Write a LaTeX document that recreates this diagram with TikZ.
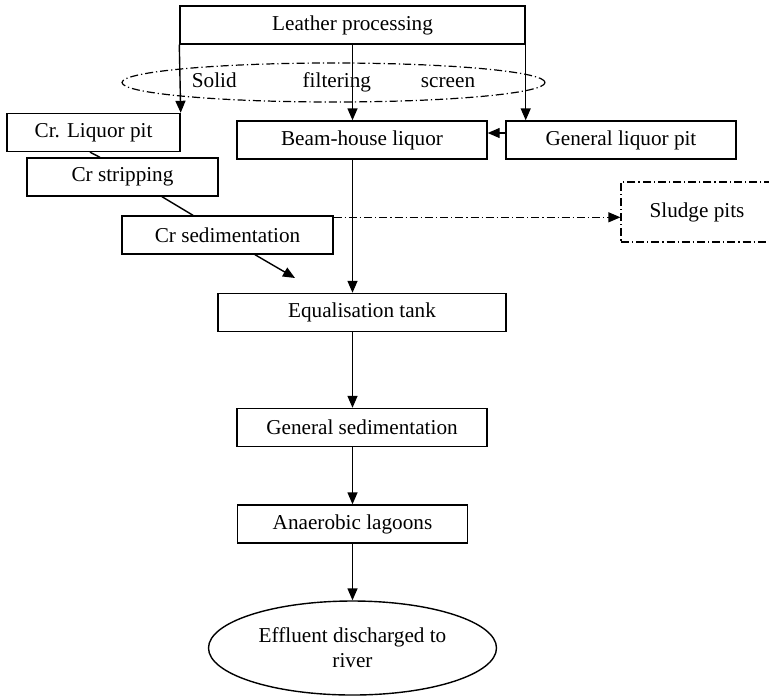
\documentclass[tikz,border=0pt]{standalone}
\usepackage{fontspec}
\setmainfont{Liberation Serif}
\usetikzlibrary{arrows.meta,shapes.geometric,calc}

\tikzset{
    stage/.style={draw, line width=0.7pt, minimum height=19pt, inner sep=0pt,
        font=\fontsize{10.6}{12.5}\selectfont},
    flow/.style={-{Triangle[length=6pt,width=5pt]}, line width=0.7pt},
    dashdot/.style={line width=0.6pt, dash pattern=on 4pt off 1.5pt on 0.6pt off 1.5pt}
}

\begin{document}
\begin{tikzpicture}[x=0.5pt, y=-0.5pt]
        \useasboundingbox (0,0) rectangle (769,696);
        \clip (0,0) rectangle (769,696);

        % Defining the treatment stages
        \node[stage, minimum width=172.5pt] (leather) at (352.5,25) {Leather processing};
        \node[stage, dashdot, ellipse, minimum width=211.5pt, minimum height=19.5pt] (screen) at (333.5,82.5)
            {Solid\hspace*{33pt}filtering\hspace*{25pt}screen};
        \node[stage, minimum width=86.5pt] (crliq) at (93.5,132.5) {Cr. Liquor pit};
        \node[stage, minimum width=95.5pt] (crstrip) at (122.5,177) {Cr stripping};
        \node[stage, minimum width=105.5pt] (crsed) at (227.5,235) {Cr sedimentation};
        \node[stage, minimum width=125pt] (beam) at (362,140) {Beam-house liquor};
        \node[stage, minimum width=115pt] (genliq) at (621,140) {General liquor pit};
        \node[stage, dashdot, minimum width=76pt, minimum height=30pt] (sludge) at (697,212) {Sludge pits};
        \node[stage, minimum width=144pt] (equal) at (362,312.5) {Equalisation tank};
        \node[stage, minimum width=125pt] (gensed) at (362,427.5) {General sedimentation};
        \node[stage, minimum width=115pt] (anaer) at (352.5,524) {Anaerobic lagoons};
        \node[stage, ellipse, minimum width=144pt, minimum height=47pt, align=center] (river) at (352.5,648)
            {Effluent discharged to\\river};

        \coordinate (crout) at (295,278);
        \coordinate (sedtop) at ($(crsed.north east)+(0,2)$);

        % Links out of the processing hall
        \draw[flow] (leather.south west) -- (crliq.north east);
        \draw[flow] (leather.south) -- (leather.south |- beam.north);
        \draw[flow] (leather.south east) -- (leather.south east |- genliq.north);
        \draw[flow] ($(genliq.west)+(0,-7)$) -- ($(beam.east)+(0,-7)$);

        % Chrome line
        \draw[line width=0.7pt] ($(crliq.south)+(-3.5,0)$) -- ($(crstrip.north)+(-22.5,0)$);
        \draw[line width=0.7pt] ($(crstrip.south)+(39.5,0)$) -- ($(crsed.north)+(-34.5,0)$);
        \draw[flow] ($(crsed.south)+(27.5,0)$) -- (crout);
        \draw[flow, dashdot] (sedtop) -- (sedtop -| sludge.west);

        % Main line down to the river
        \draw[flow] (beam.south -| leather.south) -- (equal.north -| leather.south);
        \draw[flow] (equal.south -| leather.south) -- (gensed.north -| leather.south);
        \draw[flow] (gensed.south -| anaer.north) -- (anaer.north);
        \draw[flow] (anaer.south) -- (river.north);

\end{tikzpicture}
\end{document}
